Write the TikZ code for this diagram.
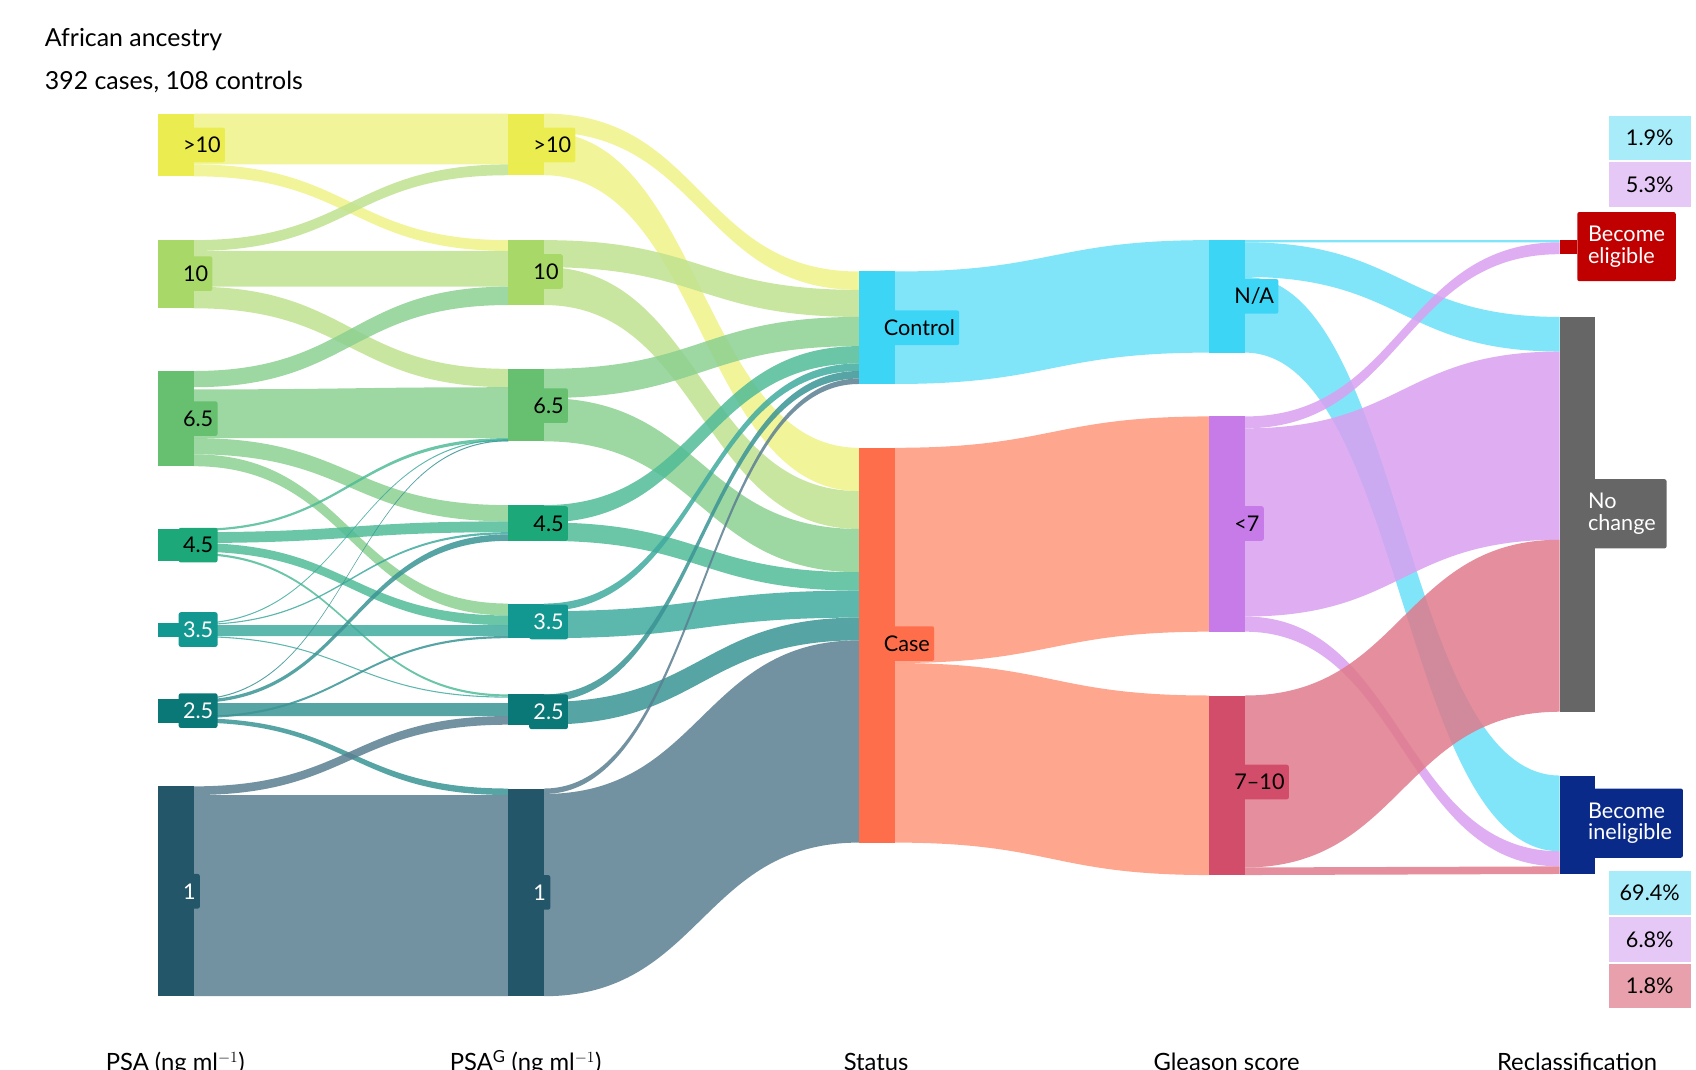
\documentclass[tikz,border=0pt]{standalone}
\usepackage{fontspec}
\setmainfont{Lato}
\definecolor{aB}{HTML}{EAEC50}\definecolor{aF}{HTML}{F0F288}
\definecolor{bB}{HTML}{A8D868}\definecolor{bF}{HTML}{C0E290}
\definecolor{cB}{HTML}{66C070}\definecolor{cF}{HTML}{8CD090}
\definecolor{dB}{HTML}{1CA878}\definecolor{dF}{HTML}{50BC98}
\definecolor{eB}{HTML}{129890}\definecolor{eF}{HTML}{40AA9F}
\definecolor{fB}{HTML}{0B7878}\definecolor{fF}{HTML}{3A9494}
\definecolor{gB}{HTML}{24566A}\definecolor{gF}{HTML}{5A7F90}
\definecolor{ctB}{HTML}{3DD5F5}\definecolor{ctF}{HTML}{6BE0F8}
\definecolor{csB}{HTML}{FF6E4A}\definecolor{csF}{HTML}{FF967A}
\definecolor{lB}{HTML}{C77BE8}\definecolor{lF}{HTML}{D9A0F0}
\definecolor{hB}{HTML}{D24D6A}\definecolor{hF}{HTML}{E07A8C}
\definecolor{elig}{HTML}{C00000}\definecolor{noch}{HTML}{666666}\definecolor{inel}{HTML}{0A2A8A}
\definecolor{pc}{HTML}{A8ECFA}\definecolor{pl}{HTML}{E5C8F5}\definecolor{pr}{HTML}{E8A0AC}
\newcommand\band[7]{\fill[#7,opacity=0.85] (#1,#2) .. controls ({(#1+#4)/2},#2) and ({(#1+#4)/2},#5) .. (#4,#5) -- (#4,#6) .. controls ({(#1+#4)/2},#6) and ({(#1+#4)/2},#3) .. (#1,#3) -- cycle;}
\newcommand\sbar[4]{\fill[#4] (#1,#2) rectangle ({#1+33},#3);}
\tikzset{lab/.style={rounded corners=2pt,inner sep=4pt,font=\fontsize{20}{22}\selectfont,anchor=west,minimum height=32pt},
 rlab/.style={inner sep=3pt,font=\fontsize{20}{22}\selectfont,align=left,text=white,anchor=west},
 pct/.style={minimum width=76pt,minimum height=41pt,inner sep=0pt,font=\fontsize{20}{22}\selectfont,anchor=north west},
 ax/.style={font=\fontsize{22}{24}\selectfont,anchor=base}}
\begin{document}
\begin{tikzpicture}[x=1pt,y=-1pt]
\useasboundingbox (0,0) rectangle (1568,989);
\node[anchor=west,font=\fontsize{23}{26}\selectfont] (t1) at (38,37) {African ancestry};
\node[anchor=west,font=\fontsize{23}{26}\selectfont] (t2) at (38,76) {392 cases, 108 controls};
% col1 -> col2
\band{179}{105}{152}{470}{105}{152}{aF}
\band{179}{152}{163}{470}{222}{232}{aF}
\band{179}{222}{232}{470}{152}{162}{bF}
\band{179}{232}{265}{470}{232}{265}{bF}
\band{179}{265}{285}{470}{341}{358}{bF}
\band{179}{343}{358}{470}{265}{282}{cF}
\band{179}{360}{405}{470}{358}{405}{cF}
\band{179}{405}{420}{470}{467}{482}{cF}
\band{179}{420}{431}{470}{558}{569}{cF}
\band{179}{489}{491}{470}{405}{408}{dF}
\band{179}{492}{502}{470}{482}{492}{dF}
\band{179}{502}{510}{470}{569}{578}{dF}
\band{179}{511}{513}{470}{642}{644}{dF}
\band{179}{576}{577}{470}{406}{407}{eF}
\band{179}{577}{578}{470}{492}{494}{eF}
\band{179}{578}{588}{470}{578}{588}{eF}
\band{179}{588}{589}{470}{644}{645}{eF}
\band{179}{646}{647}{470}{407}{408}{fF}
\band{179}{647}{650}{470}{494}{500}{fF}
\band{179}{650}{662}{470}{650}{662}{fF}
\band{179}{662}{664}{470}{588}{590}{fF}
\band{179}{664}{668}{470}{729}{735}{fF}
\band{179}{727}{735}{470}{662}{670}{gF}
\band{179}{735}{921}{470}{735}{921}{gF}
% col2 -> col3
\band{503}{105}{122}{794}{251}{268}{aF}
\band{503}{122}{162}{794}{414}{454}{aF}
\band{503}{222}{247}{794}{268}{293}{bF}
\band{503}{247}{282}{794}{454}{489}{bF}
\band{503}{341}{368}{794}{293}{320}{cF}
\band{503}{368}{408}{794}{489}{529}{cF}
\band{503}{467}{483}{794}{320}{336}{dF}
\band{503}{483}{500}{794}{529}{546}{dF}
\band{503}{558}{565}{794}{336}{343}{eF}
\band{503}{565}{590}{794}{546}{571}{eF}
\band{503}{642}{649}{794}{343}{350}{fF}
\band{503}{649}{670}{794}{571}{592}{fF}
\band{503}{729}{734}{794}{350}{355}{gF}
\band{503}{734}{921}{794}{592}{779}{gF}
% col3 -> col4
\band{827}{251}{355}{1118}{222}{326}{ctF}
\band{827}{414}{613}{1118}{385}{584}{csF}
\band{827}{613}{779}{1118}{643}{809}{csF}
% col4 -> col5
\band{1151}{222}{224}{1442}{222}{224}{ctF}
\band{1151}{224}{256}{1442}{293}{325}{ctF}
\band{1151}{256}{326}{1442}{717}{787}{ctF}
\band{1151}{385}{396}{1442}{224}{235}{lF}
\band{1151}{396}{570}{1442}{325}{499}{lF}
\band{1151}{570}{584}{1442}{787}{801}{lF}
\band{1151}{643}{802}{1442}{499}{658}{hF}
\band{1151}{802}{809}{1442}{801}{808}{hF}
% bars
\sbar{146}{105}{163}{aB}\sbar{146}{222}{285}{bB}\sbar{146}{343}{431}{cB}\sbar{146}{489}{519}{dB}
\sbar{146}{576}{589}{eB}\sbar{146}{646}{668}{fB}\sbar{146}{727}{921}{gB}
\sbar{470}{105}{162}{aB}\sbar{470}{222}{282}{bB}\sbar{470}{341}{408}{cB}\sbar{470}{467}{500}{dB}
\sbar{470}{558}{590}{eB}\sbar{470}{642}{670}{fB}\sbar{470}{729}{921}{gB}
\sbar{794}{251}{355}{ctB}\sbar{794}{414}{779}{csB}
\sbar{1118}{222}{326}{ctB}\sbar{1118}{385}{584}{lB}\sbar{1118}{643}{809}{hB}
\fill[elig] (1442,222) rectangle (1458,235);
\fill[noch] (1442,293) rectangle (1475,658);
\fill[inel] (1442,717) rectangle (1475,808);
% labels
\node[lab,fill=aB] (a1) at (165,134) {>10};
\node[lab,fill=bB] (b1) at (165,253) {10};
\node[lab,fill=cB] (c1) at (165,387) {6.5};
\node[lab,fill=dB] (d1) at (165,504) {4.5};
\node[lab,fill=eB,text=white] (e1) at (165,582) {3.5};
\node[lab,fill=fB,text=white] (f1) at (165,657) {2.5};
\node[lab,fill=gB,text=white] (g1) at (165,824) {1};
\node[lab,fill=aB] (a2) at (489,134) {>10};
\node[lab,fill=bB] (b2) at (489,251) {10};
\node[lab,fill=cB] (c2) at (489,375) {6.5};
\node[lab,fill=dB] (d2) at (489,484) {4.5};
\node[lab,fill=eB,text=white] (e2) at (489,575) {3.5};
\node[lab,fill=fB,text=white] (f2) at (489,658) {2.5};
\node[lab,fill=gB,text=white] (g2) at (489,825) {1};
\node[lab,fill=ctB] (ct) at (813,303) {Control};
\node[lab,fill=csB] (cs) at (813,595) {Case};
\node[lab,fill=ctB] (na) at (1137,274) {N/A};
\node[lab,fill=lB] (l7) at (1137,484) {<7};
\node[lab,fill=hB] (h7) at (1137,723) {7–10};
\node[rlab,fill=elig,rounded corners=2pt,minimum height=64pt,inner xsep=10pt] (el) at (1458,228) {Become\\[-2pt]eligible};
\node[rlab,fill=noch,rounded corners=2pt,minimum height=64pt,inner xsep=10pt] (nc) at (1458,475) {No\\[-2pt]change};
\node[rlab,fill=inel,rounded corners=2pt,minimum height=64pt,inner xsep=10pt] (ie) at (1458,761) {Become\\[-2pt]ineligible};
\node[pct,fill=pc] (p1) at (1487,107) {1.9\%};
\node[pct,fill=pl] (p2) at (1487,150) {5.3\%};
\node[pct,fill=pc] (p3) at (1487,805) {69.4\%};
\node[pct,fill=pl] (p4) at (1487,848) {6.8\%};
\node[pct,fill=pr] (p5) at (1487,891) {1.8\%};
\node[ax] (x1) at (162,990) {PSA (ng ml$^{-1}$)};
\node[ax] (x2) at (486,990) {PSA$^{\mathrm{G}}$ (ng ml$^{-1}$)};
\node[ax] (x3) at (810,990) {Status};
\node[ax] (x4) at (1134,990) {Gleason score};
\node[ax] (x5) at (1458,990) {Reclassification};
\end{tikzpicture}
\end{document}
